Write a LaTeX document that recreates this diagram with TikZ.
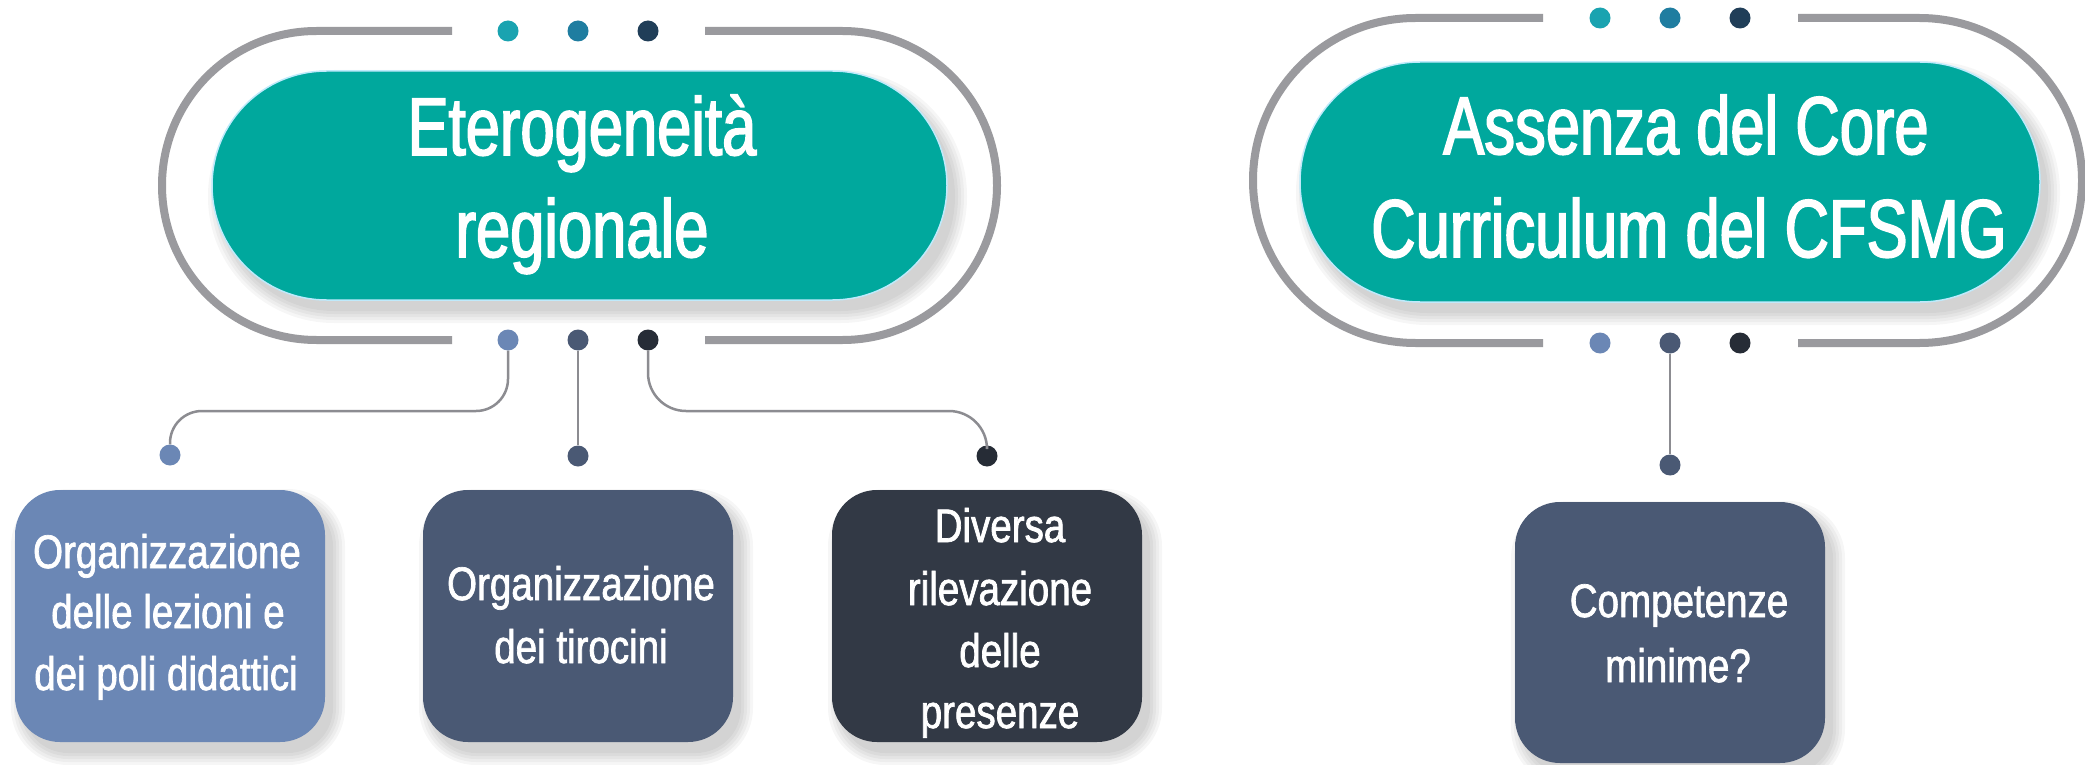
\documentclass[tikz,border=0pt]{standalone}
\usepackage{fontspec}
\newfontfamily\headfont[FakeStretch=0.75,FakeBold=2]{Liberation Sans}
\newfontfamily\boxfont[FakeStretch=0.82,FakeBold=1.5]{Liberation Sans}
\usetikzlibrary{shapes.misc}
\definecolor{teal1}{RGB}{0,168,157}
\definecolor{ringgray}{RGB}{154,154,158}
\definecolor{conngray}{RGB}{140,140,145}
\definecolor{dtA}{RGB}{26,163,176}
\definecolor{dtB}{RGB}{31,125,160}
\definecolor{dtC}{RGB}{32,62,88}
\definecolor{boxA}{RGB}{107,135,181}
\definecolor{boxB}{RGB}{74,89,116}
\definecolor{boxC}{RGB}{50,57,69}
\definecolor{dkC}{RGB}{38,44,54}
\newcommand{\softshadowbox}[5]{%
  \foreach \k in {0,3,6,9,12}{%
    \pgfmathsetmacro\rr{#5+\k}%
    \fill[black,opacity=0.035,rounded corners=\rr pt] (#1+8-\k,#2+11-\k) rectangle (#3+8+\k,#4+11+\k);
  }}
\begin{document}
\begin{tikzpicture}[x=1pt,y=-1pt,
  ring/.style={draw=ringgray, line width=8pt, line cap=butt},
  conn/.style={draw=conngray, line width=2.5pt},
  dot/.style={circle, inner sep=0pt, minimum size=21pt},
  pill/.style={rounded rectangle, fill=teal1, draw=cyan!25, line width=1.5pt, inner sep=0pt},
  card/.style={rectangle, rounded corners=45pt, inner sep=0pt, minimum width=310pt},
  head/.style={text=white, font=\headfont\fontsize{82}{98}\selectfont, anchor=base, inner sep=0pt},
  cardtxt/.style={text=white, font=\boxfont\fontsize{47}{56}\selectfont, anchor=base, inner sep=0pt}]
\useasboundingbox (0,0) rectangle (2085,765);
\fill[white] (0,0) rectangle (2085,765);

% shadows
\softshadowbox{212}{71}{947}{300}{114}
\softshadowbox{1300}{62}{2040}{302}{119.5}
\softshadowbox{15}{490}{325}{742}{45}
\softshadowbox{423}{490}{733}{742}{45}
\softshadowbox{832}{490}{1142}{742}{45}
\softshadowbox{1515}{502}{1825}{763}{45}

% outer rings (left group)
\draw[ring] (452,31) -- (316.5,31) arc[start angle=270, end angle=90, radius=154.5] -- (452,340);
\draw[ring] (705,31) -- (842.5,31) arc[start angle=270, end angle=450, radius=154.5] -- (705,340);
% outer rings (right group)
\draw[ring] (1543,18) -- (1415.5,18) arc[start angle=270, end angle=90, radius=162.5] -- (1543,343);
\draw[ring] (1798,18) -- (1919.5,18) arc[start angle=270, end angle=450, radius=162.5] -- (1798,343);

% pills
\node[pill, minimum width=735pt, minimum height=229pt] (p1) at (579.5,185.5) {};
\node[pill, minimum width=740pt, minimum height=240pt] (p2) at (1670,182) {};

% dots
\node[dot, fill=dtA] (lt1) at (508,31) {};
\node[dot, fill=dtB] (lt2) at (578,31) {};
\node[dot, fill=dtC] (lt3) at (648,31) {};
\node[dot, fill=dtA] (rt1) at (1600,18) {};
\node[dot, fill=dtB] (rt2) at (1670,18) {};
\node[dot, fill=dtC] (rt3) at (1740,18) {};

\node[dot, fill=boxA] (lb1) at (508,340) {};
\node[dot, fill=boxB] (lb2) at (578,340) {};
\node[dot, fill=dkC] (lb3) at (648,340) {};
\node[dot, fill=boxA] (rb1) at (1600,343) {};
\node[dot, fill=boxB] (rb2) at (1670,343) {};
\node[dot, fill=dkC] (rb3) at (1740,343) {};

\node[dot, fill=boxA] (d1) at (170,455) {};
\node[dot, fill=boxB] (d2) at (578,456) {};
\node[dot, fill=dkC] (d3) at (987,456) {};
\node[dot, fill=boxB] (d4) at (1670,465) {};

% connectors
\coordinate (k1) at (170,411);
\coordinate (k3) at (987,411);
\draw[conn, rounded corners=32pt] (lb1.south) |- (k1) -- (d1.north);
\draw[conn] (lb2.south) -- (d2.north);
\draw[conn, rounded corners=38pt] (lb3.south) |- (k3) -- (d3.north);
\draw[conn] (rb2.south) -- (d4.north);

% cards
\node[card, fill=boxA, minimum height=252pt] (b1) at (170,616) {};
\node[card, fill=boxB, minimum height=252pt] (b2) at (578,616) {};
\node[card, fill=boxC, minimum height=252pt] (b3) at (987,616) {};
\node[card, fill=boxB, minimum height=261pt] (b4) at (1670,632.5) {};

% heading texts
\node[head] (h1a) at (582,155) {Eterogeneità};
\node[head] (h1b) at (582,257) {regionale};
\node[head] (h2a) at (1686,154) {Assenza del Core};
\node[head] (h2b) at (1689,257) {Curriculum del CFSMG};

% card texts
\node[cardtxt] (t1a) at (167,568) {Organizzazione};
\node[cardtxt] (t1b) at (168,628) {delle lezioni e};
\node[cardtxt] (t1c) at (166,690) {dei poli didattici};
\node[cardtxt] (t2a) at (581,600) {Organizzazione};
\node[cardtxt] (t2b) at (581,663) {dei tirocini};
\node[cardtxt] (t3a) at (1000,542) {Diversa};
\node[cardtxt] (t3b) at (1000,605) {rilevazione};
\node[cardtxt] (t3c) at (1000,667) {delle};
\node[cardtxt] (t3d) at (1000,728) {presenze};
\node[cardtxt] (t4a) at (1679,617) {Competenze};
\node[cardtxt] (t4b) at (1678,682) {minime?};
\end{tikzpicture}
\end{document}
